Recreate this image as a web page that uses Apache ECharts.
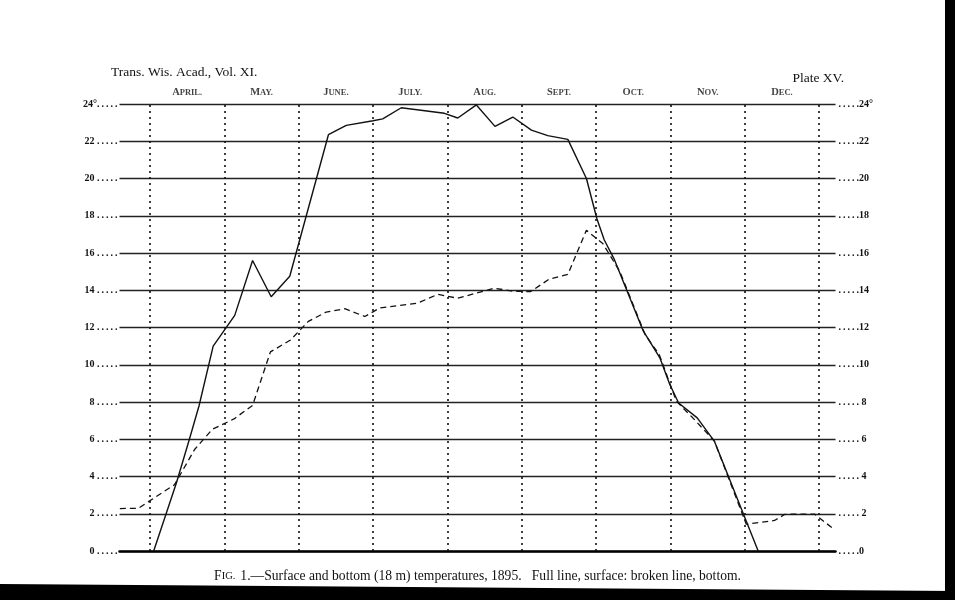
<!DOCTYPE html>
<html>
<head>
<meta charset="utf-8">
<script src="https://cdn.jsdelivr.net/npm/echarts@6/dist/echarts.min.js"></script>
<style>html,body{margin:0;padding:0;background:#fff}#c{width:955px;height:600px}</style>
</head>
<body>
<div id="c"></div>
<script>
// Month boundaries (0 = April 1, 9 = January 1), equal-width months
const monthNames = ['April.', 'May.', 'June.', 'July.', 'Aug.', 'Sept.', 'Oct.', 'Nov.', 'Dec.'];
const monthBoundaries = [0, 1, 2, 3, 4, 5, 6, 7, 8, 9];
const yTicks = [0, 2, 4, 6, 8, 10, 12, 14, 16, 18, 20, 22, 24];

// Surface temperature (full line)
const surfaceX = [0.05, 0.355, 0.53, 0.66, 0.85, 1.14, 1.38, 1.63, 1.88, 2.40, 2.64, 3.00, 3.13, 3.38, 3.96, 4.14, 4.39, 4.64, 4.88, 5.13, 5.35, 5.62, 5.87, 6.01, 6.11, 6.24, 6.63, 6.86, 6.99, 7.11, 7.36, 7.59, 8.18];
const surfaceT = [0, 3.65, 6.0, 7.8, 11.0, 12.65, 15.6, 13.65, 14.75, 22.35, 22.85, 23.1, 23.2, 23.8, 23.5, 23.25, 23.95, 22.8, 23.3, 22.6, 22.3, 22.1, 20.0, 17.85, 16.7, 15.7, 11.85, 10.35, 8.95, 7.95, 7.15, 5.9, 0];

// Bottom (18 m) temperature (broken line)
const bottomX = [-0.405, -0.157, -0.02, 0.33, 0.60, 0.84, 1.13, 1.38, 1.62, 1.89, 2.13, 2.37, 2.62, 2.89, 3.09, 3.60, 3.87, 4.14, 4.63, 4.90, 5.12, 5.37, 5.62, 5.87, 6.09, 6.32, 6.66, 6.85, 7.08, 7.30, 7.59, 8.02, 8.40, 8.54, 8.94, 9.21];
const bottomT = [2.28, 2.29, 2.65, 3.56, 5.45, 6.54, 7.09, 7.82, 10.69, 11.33, 12.33, 12.83, 13.01, 12.59, 13.05, 13.31, 13.78, 13.57, 14.11, 13.94, 13.93, 14.6, 14.85, 17.22, 16.51, 15.0, 11.61, 10.54, 8.04, 7.15, 5.91, 1.44, 1.64, 1.97, 1.98, 1.13];

const serif = '"Liberation Serif", "DejaVu Serif", serif';
const chart = echarts.init(document.getElementById('c'));

const zip = (xs, ys) => xs.map((x, i) => [x, ys[i]]);
const smallCaps = s => '{a|' + s.charAt(0).toUpperCase() + '}{b|' + s.slice(1).toUpperCase() + '}';
const dots = ['.', '.', '.', '.', '.'].join('\u2009');

chart.setOption({
  backgroundColor: '#fff',
  animation: false,
  title: [
    { text: 'Trans. Wis. Acad., Vol. XI.', left: 106, top: 60,
      textStyle: { fontFamily: serif, fontSize: 13.5, fontWeight: 'normal', color: '#111' } },
    { text: 'Plate XV.', right: 106, top: 66,
      textStyle: { fontFamily: serif, fontSize: 13.5, fontWeight: 'normal', color: '#111' } },
    { text: '{a|F}{b|IG.} {c|1.—Surface and bottom (18 m) temperatures, 1895.   Full line, surface: broken line, bottom.}',
      left: 'center', top: 562,
      textStyle: { rich: {
        a: { fontFamily: serif, fontSize: 13.6, fontWeight: 'normal', color: '#111' },
        b: { fontFamily: serif, fontSize: 10.5, fontWeight: 'normal', color: '#111' },
        c: { fontFamily: serif, fontSize: 13.6, fontWeight: 'normal', color: '#111' }
      } } }
  ],
  graphic: [
    { type: 'rect', shape: { x: 945, y: 0, width: 10, height: 600 }, style: { fill: '#000' }, silent: true },
    { type: 'polygon', shape: { points: [[0, 584], [955, 591], [955, 600], [0, 600]] }, style: { fill: '#000' }, silent: true }
  ],
  grid: { left: 119.5, right: 119.5, top: 104, bottom: 49 },
  xAxis: {
    type: 'value', min: -0.41, max: 9.22,
    axisLine: { show: true, onZero: false, lineStyle: { color: '#000', width: 2.5 } },
    axisTick: { show: false }, axisLabel: { show: false }, splitLine: { show: false }
  },
  yAxis: [
    {
      type: 'value', min: 0, max: 24, interval: 2, position: 'left',
      axisLine: { show: false }, axisTick: { show: false },
      axisLabel: { margin: 2, fontFamily: serif, fontSize: 10, fontWeight: 'bold', color: '#111',
        formatter: v => (v === 24 ? '24°' : v + ' ') + dots },
      splitLine: { show: true, lineStyle: { color: '#222', width: 1.3 } }
    },
    {
      type: 'value', min: 0, max: 24, interval: 2, position: 'right',
      axisLine: { show: false }, axisTick: { show: false },
      axisLabel: { margin: 3, fontFamily: serif, fontSize: 10, fontWeight: 'bold', color: '#111',
        formatter: v => dots + (v > 0 && v < 10 ? ' ' : '') + v + (v === 24 ? '°' : '') },
      splitLine: { show: false }
    }
  ],
  series: [
    {
      type: 'line', name: 'boundaries', data: [], silent: true,
      markLine: {
        silent: true, symbol: 'none', label: { show: false },
        lineStyle: { color: '#111', type: [2, 4], width: 1.6 },
        data: monthBoundaries.map(v => ({ xAxis: v }))
      }
    },
    {
      type: 'scatter', name: 'months', symbolSize: 0, silent: true,
      data: monthNames.map((n, i) => ({ value: [i + 0.5, 24], name: n })),
      label: {
        show: true, position: 'top', distance: 6,
        formatter: p => smallCaps(p.name),
        rich: {
          a: { fontFamily: serif, fontSize: 10.5, fontWeight: 'bold', color: '#111' },
          b: { fontFamily: serif, fontSize: 8.5, fontWeight: 'bold', color: '#111' }
        }
      }
    },
    {
      type: 'line', name: 'Surface', data: zip(surfaceX, surfaceT),
      showSymbol: false, clip: false, smooth: false,
      lineStyle: { color: '#111', width: 1.4, type: 'solid' }
    },
    {
      type: 'line', name: 'Bottom', data: zip(bottomX, bottomT),
      showSymbol: false, clip: false, smooth: false,
      lineStyle: { color: '#111', width: 1.3, type: [6, 4] }
    }
  ]
});
</script>
</body>
</html>
